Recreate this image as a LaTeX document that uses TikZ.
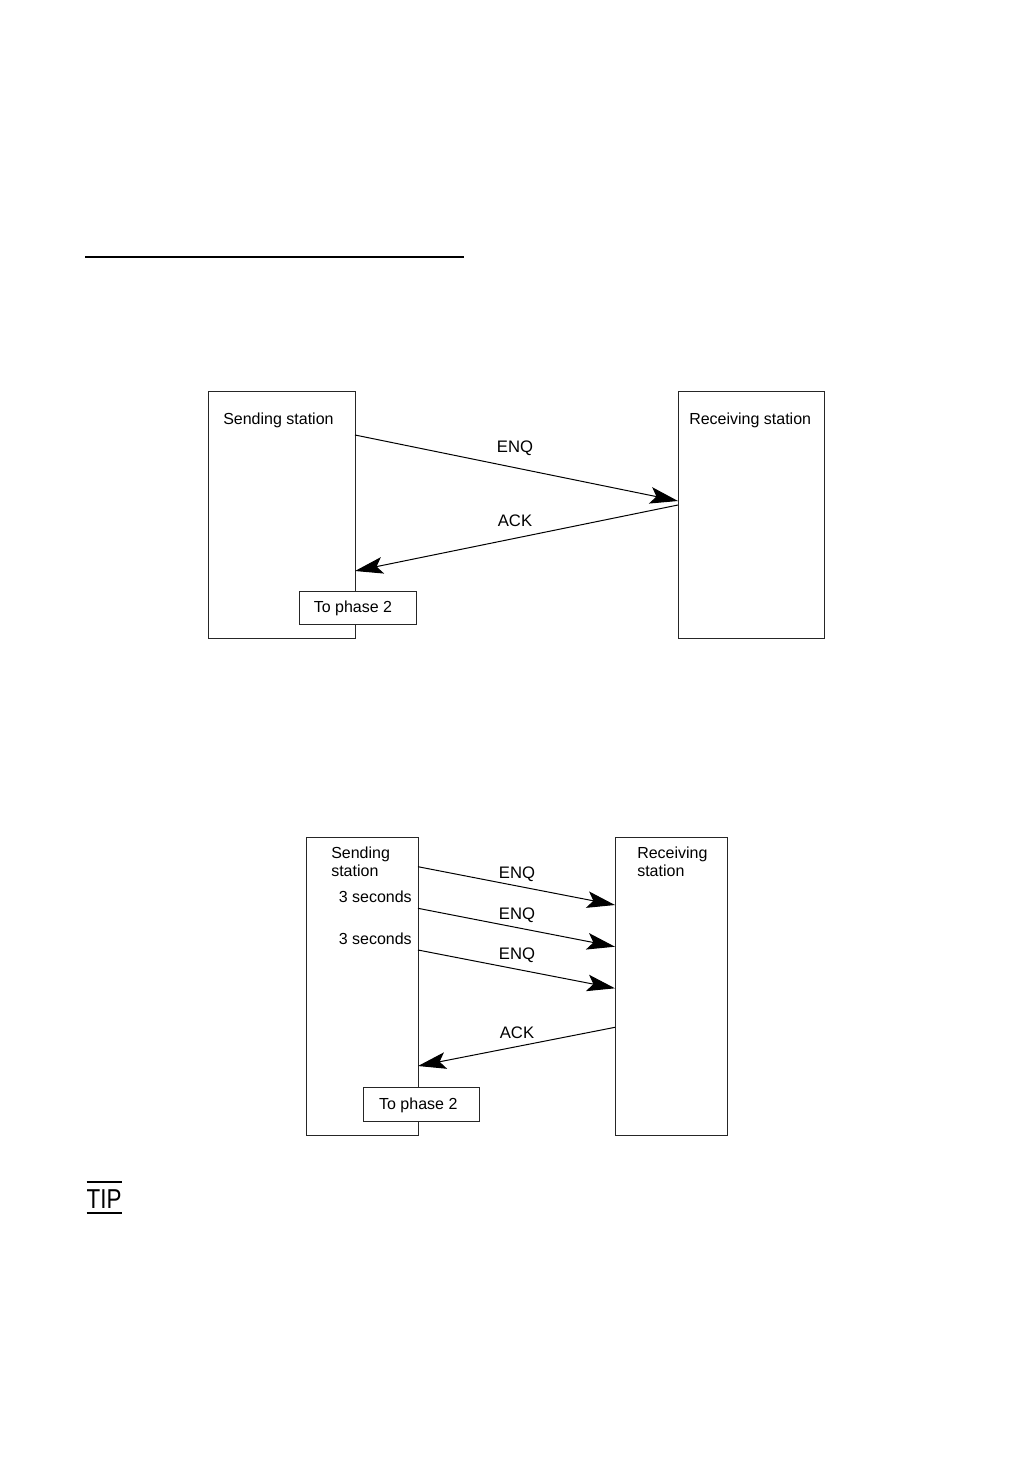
\documentclass[tikz,border=0pt]{standalone}
\usepackage{fontspec}
\setmainfont{Liberation Sans}
\usetikzlibrary{arrows.meta}
\begin{document}
\begin{tikzpicture}[x=0.75pt,y=-0.75pt,
  boxline/.style={draw=black!85, line width=0.8pt},
  stationbox/.style={boxline, inner sep=0pt, anchor=north west},
  phasebox/.style={boxline, fill=white, inner sep=0pt, anchor=north west, font=\fontsize{12}{14}\selectfont},
  lbl/.style={inner sep=0pt, font=\fontsize{12}{14}\selectfont},
  caplbl/.style={inner sep=0pt, font=\fontsize{12.5}{14}\selectfont},
  msg/.style={line width=0.75pt, -{Stealth[length=21pt, width=12.5pt, inset=4.5pt]}},
  rule/.style={line width=1.5pt}]
\useasboundingbox (0,0) rectangle (1032,1458);
% top rule
\coordinate (r1) at (85,257);
\coordinate (r2) at (464,257);
\draw[rule] (r1) -- (r2);

% ---------- diagram 1 ----------
\node[stationbox, minimum width=147*0.75pt, minimum height=247*0.75pt] (S1) at (208,391) {};
\node[stationbox, minimum width=146*0.75pt, minimum height=247*0.75pt] (R1) at (678,391) {};
\node[lbl, anchor=base west] (S1t) at (223,424.5) {Sending station};
\node[lbl, anchor=base west] (R1t) at (689,424.5) {Receiving station};
\coordinate (e1a) at (355,435);
\coordinate (e1b) at (678,501);
\coordinate (a1a) at (678,505);
\coordinate (a1b) at (355,571);
\draw[msg] (e1a) -- (e1b);
\draw[msg] (a1a) -- (a1b);
\node[caplbl, anchor=base] (enq1) at (515,452) {ENQ};
\node[caplbl, anchor=base] (ack1) at (515,526) {ACK};
\node[phasebox, minimum width=117*0.75pt, minimum height=33*0.75pt] (P1) at (299,591) {};
\node[lbl, anchor=base] (P1t) at (353,612) {To phase 2};

% ---------- diagram 2 ----------
\node[stationbox, minimum width=112*0.75pt, minimum height=298*0.75pt] (S2) at (306,837) {};
\node[stationbox, minimum width=112*0.75pt, minimum height=298*0.75pt] (R2) at (615,837) {};
\node[lbl, anchor=base west] (S2t) at (331,858.3) {Sending};
\node[lbl, anchor=base west] (S2u) at (331,876) {station};
\node[lbl, anchor=base west] (R2t) at (637,858.3) {Receiving};
\node[lbl, anchor=base west] (R2u) at (637,876) {station};
\node[lbl, anchor=base east] (sec1) at (412,902) {3 seconds};
\node[lbl, anchor=base east] (sec2) at (412,944) {3 seconds};
\coordinate (e2a) at (418,866.7);
\coordinate (e2b) at (615,905);
\coordinate (e3a) at (418,908.3);
\coordinate (e3b) at (615,946.7);
\coordinate (e4a) at (418,950);
\coordinate (e4b) at (615,988.3);
\coordinate (a2a) at (615,1027.3);
\coordinate (a2b) at (418,1066);
\draw[msg] (e2a) -- (e2b);
\draw[msg] (e3a) -- (e3b);
\draw[msg] (e4a) -- (e4b);
\draw[msg] (a2a) -- (a2b);
\node[caplbl, anchor=base] (enq2) at (517,878.3) {ENQ};
\node[caplbl, anchor=base] (enq3) at (517,919) {ENQ};
\node[caplbl, anchor=base] (enq4) at (517,959.3) {ENQ};
\node[caplbl, anchor=base] (ack2) at (517,1038.3) {ACK};
\node[phasebox, minimum width=116.6*0.75pt, minimum height=33.7*0.75pt] (P2) at (362.7,1087.3) {};
\node[lbl, anchor=base] (P2t) at (418.3,1109.3) {To phase 2};

% ---------- TIP ----------
\coordinate (t1) at (86.7,1181.7);
\coordinate (t2) at (121.7,1181.7);
\coordinate (t3) at (86.7,1213.3);
\coordinate (t4) at (121.7,1213.3);
\draw[rule] (t1) -- (t2);
\draw[rule] (t3) -- (t4);
\node[inner sep=0pt, anchor=base west, xscale=0.82, font=\fontsize{20.5}{22}\selectfont] (tip) at (86.5,1208) {TIP};
\end{tikzpicture}
\end{document}
